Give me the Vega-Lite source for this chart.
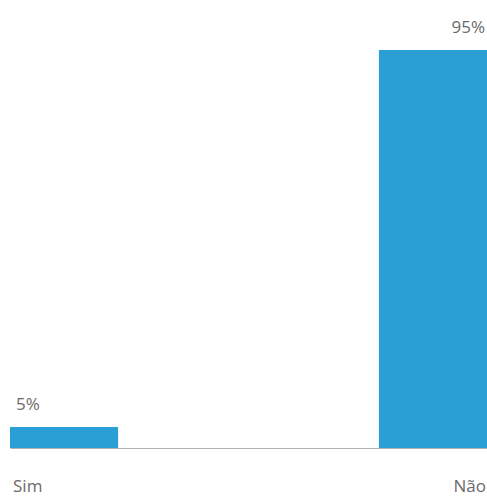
{
  "$schema": "https://vega.github.io/schema/vega-lite/v6.json",
  "width": 477,
  "height": 419,
  "autosize": "none",
  "padding": {"left": 10, "top": 29, "right": 0, "bottom": 48},
  "background": "white",
  "config": {"view": {"stroke": null}, "font": "Open Sans"},
  "data": {"values": [
    {"resposta": "Sim", "pct": 5, "label": "5%"},
    {"resposta": "Não", "pct": 95, "label": "95%"}
  ]},
  "encoding": {
    "x": {
      "field": "resposta", "type": "nominal", "sort": ["Sim", "Não"],
      "scale": {"paddingInner": 0.707, "paddingOuter": 0},
      "axis": {
        "title": null, "ticks": false, "domainColor": "#b0b0b0", "domainWidth": 1,
        "labelAngle": 0, "labelFontSize": 17, "labelColor": "#6a6a6a",
        "labelPadding": 30, "labelBound": false, "labelFlush": false,
        "labelAlign": {"expr": "datum.value == 'Sim' ? 'left' : 'right'"},
        "labelOffset": {"expr": "datum.value == 'Sim' ? -51 : 53"}
      }
    }
  },
  "layer": [
    {
      "mark": {"type": "bar", "color": "#2a9fd5"},
      "encoding": {
        "y": {"field": "pct", "type": "quantitative", "scale": {"domain": [0, 100]}, "axis": null}
      }
    },
    {
      "transform": [{"filter": "datum.resposta == 'Sim'"}],
      "mark": {"type": "text", "align": "left", "baseline": "alphabetic", "dx": 6, "dy": -17, "fontSize": 17, "color": "#6a6a6a"},
      "encoding": {
        "x": {"field": "resposta", "type": "nominal", "sort": ["Sim", "Não"], "bandPosition": 0},
        "y": {"field": "pct", "type": "quantitative"},
        "text": {"field": "label"}
      }
    },
    {
      "transform": [{"filter": "datum.resposta == 'Não'"}],
      "mark": {"type": "text", "align": "right", "baseline": "alphabetic", "dx": -2, "dy": -17, "fontSize": 17, "color": "#6a6a6a"},
      "encoding": {
        "x": {"field": "resposta", "type": "nominal", "sort": ["Sim", "Não"], "bandPosition": 1},
        "y": {"field": "pct", "type": "quantitative"},
        "text": {"field": "label"}
      }
    }
  ]
}
